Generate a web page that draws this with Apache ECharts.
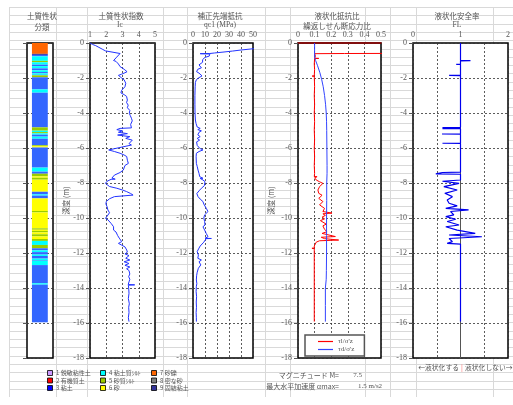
<!DOCTYPE html>
<html>
<head>
<meta charset="utf-8">
<script src="https://cdn.jsdelivr.net/npm/echarts/dist/echarts.min.js"></script>
<style>html,body{margin:0;padding:0;background:#fff}#chart{width:513px;height:405px}</style>
</head>
<body>
<div id="chart"></div>
<script>
// 土質性状分類 (層境界 m と分類番号)
var soilBounds = [0, 0.62, 0.68, 0.76, 1.02, 1.10, 1.24, 1.32, 1.45, 1.56, 1.66, 1.73, 1.82, 1.85, 1.96, 2.65, 2.84, 4.82, 5.01, 5.09,
  5.16, 5.24, 5.35, 5.47, 5.84, 5.90, 5.97, 7.12, 7.35, 7.47, 7.62, 7.70, 7.81, 8.50, 8.65, 8.72, 8.88, 9.60, 9.68, 10.59,
  10.67, 10.74, 10.82, 10.93, 11.05, 11.20, 11.31, 11.54, 11.73, 11.85, 11.95, 12.09, 12.17, 12.32, 12.40, 12.44, 12.69, 13.73, 13.81, 15.96];
var soilCode = [7, 9, 3, 4, 5, 4, 3, 4, 3, 4, 3, 4, 3, 5, 3, 4, 3, 5, 4, 5,
  4, 3, 4, 3, 5, 6, 3, 4, 3, 5, 6, 5, 6, 3, 4, 3, 6, 5, 6, 5,
  6, 5, 6, 5, 6, 5, 4, 5, 3, 4, 3, 4, 3, 4, 3, 4, 3, 4, 3];
var soilNames = ['1 鋭敏粘性土', '2 有機質土', '3 粘土', '4 粘土質ｼﾙﾄ', '5 砂質ｼﾙﾄ', '6 砂', '7 砂礫', '8 密な砂', '9 固結粘土'];

// 土質性状指数 Ic
var icDepth = [0.00, 0.08, 0.15, 0.25, 0.35, 0.45, 0.55, 0.60, 0.70, 0.85, 1.00, 1.05, 1.12, 1.20, 1.28, 1.35, 1.42, 1.50, 1.58, 1.64,
  1.70, 1.78, 1.85, 1.92, 2.00, 2.10, 2.20, 2.30, 2.40, 2.50, 2.60, 2.70, 2.78, 2.85, 2.95, 3.05, 3.15, 3.26, 3.40, 3.55,
  3.70, 3.85, 4.02, 4.15, 4.30, 4.45, 4.55, 4.65, 4.75, 4.85, 4.88, 4.95, 5.02, 5.10, 5.18, 5.26, 5.35, 5.45, 5.55, 5.65,
  5.75, 5.83, 6.11, 6.20, 6.30, 6.40, 6.49, 6.60, 6.70, 6.80, 6.88, 7.00, 7.10, 7.26, 7.40, 7.55, 7.64, 7.72, 7.78, 7.79,
  7.90, 8.02, 8.11, 8.20, 8.30, 8.40, 8.49, 8.60, 8.69, 8.78, 8.90, 9.06, 9.20, 9.35, 9.54, 9.70, 9.80, 9.90, 10.02, 10.10,
  10.20, 10.31, 10.40, 10.50, 10.60, 10.69, 10.80, 10.90, 11.00, 11.07, 11.15, 11.25, 11.35, 11.45, 11.55, 11.65, 11.75, 11.83, 11.95, 12.05,
  12.15, 12.21, 12.30, 12.40, 12.50, 12.60, 12.70, 12.80, 12.90, 13.00, 13.10, 13.20, 13.35, 13.50, 13.65, 13.80, 13.82, 13.84, 14.00, 14.30,
  14.60, 14.90, 15.10, 15.40, 15.70, 15.92];
var icValue = [1.00, 1.15, 1.35, 1.55, 1.75, 1.95, 2.05, 2.85, 2.80, 2.60, 2.45, 2.60, 2.55, 2.75, 2.70, 2.85, 2.95, 3.10, 3.00, 3.28,
  3.15, 2.95, 2.75, 2.70, 2.95, 3.10, 3.05, 3.20, 3.10, 3.15, 3.05, 2.95, 3.00, 2.90, 3.10, 3.25, 3.15, 3.30, 3.25, 3.35,
  3.30, 3.45, 3.42, 3.48, 3.55, 3.60, 3.62, 3.50, 3.58, 3.55, 2.85, 2.65, 3.00, 2.75, 3.30, 2.70, 3.45, 3.20, 3.60, 3.50,
  3.40, 3.55, 2.15, 2.50, 2.85, 3.10, 3.26, 3.15, 3.30, 3.20, 3.36, 3.15, 3.20, 3.05, 2.85, 2.50, 2.40, 2.35, 2.55, 2.30,
  2.05, 1.95, 1.90, 2.20, 2.65, 3.00, 3.25, 3.50, 3.65, 2.50, 2.20, 2.00, 1.98, 2.05, 2.10, 2.20, 2.15, 2.05, 1.95, 2.10,
  2.05, 2.30, 2.20, 2.45, 2.35, 2.45, 2.60, 2.50, 2.70, 2.60, 2.80, 2.70, 2.95, 2.75, 2.95, 3.15, 3.05, 3.26, 3.30, 3.15,
  3.40, 3.36, 3.20, 3.45, 3.10, 3.40, 3.15, 3.45, 3.25, 3.40, 3.30, 3.45, 3.38, 3.45, 3.40, 3.35, 3.75, 3.36, 3.38, 3.40,
  3.36, 3.42, 3.38, 3.40, 3.36, 3.40];

// 補正先端抵抗 qc1 (MPa)
var qcDepth = [0.00, 0.20, 0.33, 0.40, 0.46, 0.52, 0.57, 0.60, 0.61, 0.63, 0.75, 0.82, 0.88, 0.95, 1.02, 1.10, 1.16, 1.25, 1.35, 1.42,
  1.50, 1.58, 1.64, 1.72, 1.80, 1.88, 1.92, 2.00, 2.10, 2.25, 2.50, 3.00, 3.50, 4.00, 4.40, 4.59, 4.70, 4.80, 4.88, 4.95,
  5.02, 5.10, 5.16, 5.25, 5.35, 5.45, 5.55, 5.65, 5.73, 5.85, 6.02, 6.11, 6.20, 6.30, 6.50, 6.88, 7.05, 7.26, 7.45, 7.64,
  7.72, 7.73, 7.74, 7.83, 7.92, 8.02, 8.15, 8.30, 8.45, 8.60, 8.78, 8.92, 9.06, 9.20, 9.30, 9.44, 9.55, 9.63, 9.72, 9.82,
  9.90, 10.00, 10.10, 10.20, 10.30, 10.40, 10.50, 10.60, 10.69, 10.78, 10.88, 10.98, 11.07, 11.16, 11.17, 11.18, 11.28, 11.38, 11.45, 11.60,
  11.72, 11.83, 11.92, 12.02, 12.12, 12.21, 12.30, 12.40, 12.50, 12.59, 12.68, 12.78, 12.87, 12.97, 13.10, 13.30, 13.54, 13.75, 13.90, 14.00,
  14.20, 14.50, 14.80, 15.10, 15.40, 15.70, 15.92];
var qcValue = [120, 80, 50, 40, 33, 25, 18, 14, 6, 14, 13.5, 10, 9, 8, 6.5, 8, 7, 5, 4.5, 7,
  4, 3.5, 3, 5, 6, 7.5, 7, 4.5, 2.8, 2, 1.8, 1.6, 1.6, 1.7, 2.0, 2.5, 1.8, 3.5, 6, 4,
  7, 5, 6.5, 4, 6, 3.5, 5.5, 3, 2.8, 3.5, 5.6, 8.3, 5, 2.8, 2.6, 2.8, 3.5, 4.2, 5, 5.6,
  5.0, 8.3, 6, 8.3, 10, 11, 9.5, 7, 5, 3.2, 4.2, 6, 8.3, 9, 10.5, 11, 12.5, 12.5, 11, 9.7,
  11, 9, 10.5, 9.7, 8.5, 10, 8.3, 9.5, 9.7, 10.5, 11, 12, 12.5, 10, 15.3, 11, 10, 9, 8.3, 6,
  5, 4.2, 3.5, 2.8, 4.5, 5.6, 4, 7, 5, 4.2, 6.5, 7, 4.5, 5.6, 3.5, 3, 2.8, 3.2, 2.8, 2.8,
  2.6, 3.0, 2.7, 2.9, 2.6, 2.8, 2.8];

// 液状化抵抗比 τl/σ'z
var rlDepth = [0.00, 0.59, 0.60, 0.61, 0.75, 0.87, 0.88, 0.89, 1.20, 1.50, 1.88, 1.89, 1.90, 2.50, 3.00, 3.50, 4.00, 4.50, 4.97, 4.98,
  4.99, 5.50, 6.02, 6.03, 6.04, 6.50, 7.00, 7.45, 7.63, 7.64, 7.70, 7.83, 7.93, 8.02, 8.12, 8.21, 8.30, 8.40, 8.50, 8.59,
  8.70, 8.78, 8.88, 8.97, 9.06, 9.16, 9.25, 9.35, 9.45, 9.54, 9.63, 9.72, 9.76, 9.85, 9.95, 10.05, 10.15, 10.25, 10.35, 10.45,
  10.55, 10.65, 10.78, 10.88, 10.97, 11.06, 11.10, 11.18, 11.26, 11.30, 11.38, 11.45, 11.60, 11.72, 11.73, 11.75, 12.50, 13.50, 14.50, 15.92];
var rlValue = [0.9, 0.9, 0.28, 0.10, 0.105, 0.10, 0.125, 0.10, 0.098, 0.10, 0.098, 0.085, 0.098, 0.10, 0.098, 0.10, 0.098, 0.10, 0.098, 0.11,
  0.098, 0.10, 0.098, 0.108, 0.098, 0.10, 0.098, 0.10, 0.098, 0.115, 0.10, 0.11, 0.13, 0.15, 0.14, 0.13, 0.12, 0.12, 0.13, 0.125,
  0.145, 0.14, 0.125, 0.13, 0.15, 0.16, 0.13, 0.14, 0.16, 0.17, 0.15, 0.205, 0.15, 0.165, 0.145, 0.16, 0.135, 0.14, 0.17, 0.15,
  0.14, 0.16, 0.175, 0.145, 0.15, 0.225, 0.14, 0.16, 0.245, 0.13, 0.11, 0.10, 0.098, 0.098, 0.084, 0.098, 0.098, 0.098, 0.098, 0.098];

// 繰返しせん断応力比 τd/σ'z
var ldDepth = [0.00, 0.80, 1.00, 1.30, 1.70, 2.10, 2.50, 3.00, 3.50, 4.00, 4.50, 5.00, 6.00, 7.00, 7.45, 7.50, 8.00, 9.00, 10.00, 11.00,
  12.00, 13.00, 13.50, 13.55, 14.00, 15.00, 15.92];
var ldValue = [0.100, 0.100, 0.106, 0.118, 0.132, 0.143, 0.152, 0.160, 0.166, 0.170, 0.172, 0.173, 0.174, 0.175, 0.175, 0.172, 0.173, 0.173, 0.172, 0.172,
  0.172, 0.171, 0.170, 0.165, 0.165, 0.165, 0.165];

// 液状化安全率 FL
var flDepth = [0.00, 0.99, 1.01, 1.02, 1.21, 1.22, 1.23, 1.84, 1.85, 1.86, 4.82, 4.83, 4.85, 4.89, 4.90, 5.19, 5.20, 5.21, 5.72, 5.73,
  5.74, 7.38, 7.40, 7.47, 7.48, 7.50, 7.83, 7.90, 8.02, 8.21, 8.40, 8.59, 8.78, 8.97, 9.16, 9.31, 9.45, 9.54, 9.63, 9.82,
  9.92, 10.07, 10.20, 10.40, 10.50, 10.69, 10.88, 10.97, 11.07, 11.17, 11.35, 11.45, 11.49, 15.92];
var flValue = [1.00, 1.00, 1.21, 1.00, 1.00, 0.91, 1.00, 1.00, 0.76, 1.00, 1.00, 0.62, 1.00, 0.62, 1.00, 1.00, 0.61, 1.00, 1.00, 0.62,
  1.00, 1.00, 0.62, 0.62, 0.48, 1.00, 1.00, 0.62, 0.97, 0.65, 0.93, 0.67, 0.83, 0.72, 0.76, 0.93, 0.69, 1.17, 0.79, 0.86,
  0.69, 0.90, 0.72, 0.97, 0.69, 0.93, 1.31, 0.76, 1.45, 0.76, 0.83, 0.72, 1.00, 1.00];

var soilColor = {1: '#CC99FF', 2: '#FF0000', 3: '#3366FF', 4: '#00FFFF', 5: '#99CC00', 6: '#FFFF00', 7: '#FF6600', 8: '#808080', 9: '#333399'};
var legendColor = ['#CC99FF', '#FF0000', '#0000FF', '#00FFFF', '#99CC00', '#FFFF00', '#FF6600', '#808080', '#333399'];

var TXT = '#555';
var NUMFONT = "'Liberation Serif', 'Noto Sans CJK JP', serif";
var JPFONT = "'Noto Sans CJK JP', sans-serif";
var DASH = {color: '#333', width: 0.8, type: [2, 2]};

var chart = echarts.init(document.getElementById('chart'));

function pairs(depth, val) {
  return depth.map(function (d, i) { return [val[i], -d]; });
}

var grids = [
  {left: 27, top: 43, width: 26, height: 315},
  {left: 90, top: 43, width: 65, height: 315},
  {left: 193, top: 43, width: 60, height: 315},
  {left: 298, top: 43, width: 83, height: 315},
  {left: 413, top: 43, width: 96, height: 315}
].map(function (g) {
  g.show = true; g.backgroundColor = '#fff'; g.borderColor = '#000'; g.borderWidth = 1.5;
  return g;
});

function xAx(i, min, max, step, fmt) {
  return {
    gridIndex: i, type: 'value', position: 'top', min: min, max: max, interval: step,
    axisLine: {show: false}, axisTick: {show: false},
    axisLabel: {show: i > 0, color: TXT, fontSize: 8, fontFamily: NUMFONT, margin: 4, formatter: fmt},
    splitLine: {show: i > 0, lineStyle: DASH}
  };
}
function yAx(i, name, gap) {
  return {
    gridIndex: i, type: 'value', min: -18, max: 0, interval: 2,
    name: name, nameLocation: 'middle', nameGap: gap,
    nameTextStyle: {color: TXT, fontSize: 7.5, fontFamily: JPFONT},
    axisLine: {show: false},
    axisTick: {show: true, length: 4, lineStyle: {color: '#555'}},
    axisLabel: {show: i > 0, color: TXT, fontSize: 8, fontFamily: NUMFONT, margin: 6},
    splitLine: {show: true, lineStyle: DASH}
  };
}

// Excel 背景のセル罫線
var bgCols = [9, 56, 87, 163, 187, 265, 290, 365, 390, 416, 493];
var bgTop = 7, bgBottom = 397, bgStep = 8.3;
var graphics = [];
for (var y = bgTop; y <= bgBottom + 0.1; y += bgStep) {
  graphics.push({type: 'line', z: -10, silent: true, shape: {x1: 9, y1: Math.round(y) + 0.5, x2: 513, y2: Math.round(y) + 0.5}, style: {stroke: '#d9d9d9', lineWidth: 1}});
}
bgCols.forEach(function (x) {
  graphics.push({type: 'line', z: -10, silent: true, shape: {x1: x + 0.5, y1: bgTop, x2: x + 0.5, y2: bgBottom}, style: {stroke: '#d9d9d9', lineWidth: 1}});
});

function txt(s, x, y, size, align, color, font) {
  return {type: 'text', z: 10, silent: true, x: x, y: y,
    style: {text: s, fill: color || TXT, font: size + 'px ' + (font || JPFONT),
      align: align || 'center', verticalAlign: 'middle', textAlign: align || 'center', textVerticalAlign: 'middle'}};
}
graphics.push(
  txt('土質性状', 42, 16, 7.5), txt('分類', 42, 27, 7.5),
  txt('土質性状指数', 121, 16, 7.5), txt('Ic', 120, 25, 7.5, 'center', TXT, NUMFONT),
  txt('補正先端抵抗', 220, 16, 7.5), txt('qc1 (MPa)', 220, 25.5, 7.5, 'center', TXT, NUMFONT),
  txt('液状化抵抗比', 337, 16, 7.5), txt('繰返しせん断応力比', 337, 26, 7.5),
  txt('液状化安全率', 457, 16, 7.5), txt('FL', 457, 25, 7.5, 'center', TXT, NUMFONT),
  txt('マグニチュード M=', 339, 375, 7, 'right'), txt('7.5', 362, 375, 7, 'right', TXT, NUMFONT),
  txt('最大水平加速度 αmax=', 339, 386, 7, 'right'), txt('1.5 m/s2', 358, 386, 7, 'left', TXT, NUMFONT),
  txt('←液状化する', 459, 367, 6.8, 'right'), txt('|', 462, 367, 7, 'center', '#FF6666'), txt('液状化しない→', 465, 367, 6.8, 'left')
);
// 土質分類の凡例
var legX = [50, 103, 154], legY = [373, 380.5, 388];
soilNames.forEach(function (n, k) {
  var cx = legX[Math.floor(k / 3)], cy = legY[k % 3];
  graphics.push({type: 'rect', z: 10, silent: true, shape: {x: cx - 2.5, y: cy - 2.5, width: 5, height: 5},
    style: {fill: legendColor[k], stroke: '#000', lineWidth: 0.8}});
  graphics.push(txt(n, cx + 6, cy, 6, 'left'));
});

var soilData = soilCode.map(function (c, i) { return [soilBounds[i], soilBounds[i + 1], c]; });

chart.setOption({
  animation: false,
  backgroundColor: '#fff',
  grid: grids,
  xAxis: [
    xAx(0, 0, 1, 1),
    xAx(1, 1, 5, 1),
    xAx(2, 0, 50, 10),
    Object.assign(xAx(3, 0, 0.5, 0.1), {axisLine: {show: true, onZero: false, lineStyle: {color: '#990000', width: 1.5}}}),
    xAx(4, 0, 2, 0.5, function (v) { return v % 1 === 0 ? String(v) : ''; })
  ],
  yAxis: [yAx(0, '', 0), yAx(1, '深度 (m)', 19), yAx(2, '', 0), yAx(3, '深度 (m)', 23), yAx(4, '', 0)],
  legend: {
    left: 305, top: 335, orient: 'vertical', icon: 'rect', itemWidth: 15, itemHeight: 1.2, itemGap: 1,
    padding: [3, 10, 3, 13], backgroundColor: '#fff', borderColor: '#555', borderWidth: 1.5,
    textStyle: {color: TXT, fontSize: 7, fontFamily: NUMFONT},
    data: ["τl/σ'z", "τd/σ'z"]
  },
  graphic: graphics,
  series: [
    {
      type: 'custom', xAxisIndex: 0, yAxisIndex: 0, silent: true,
      data: soilData,
      renderItem: function (params, api) {
        var p1 = api.coord([0.19, -api.value(0)]);
        var p2 = api.coord([0.8, -api.value(1)]);
        return {type: 'rect', shape: {x: p1[0], y: p1[1], width: p2[0] - p1[0], height: p2[1] - p1[1]},
          style: {fill: soilColor[api.value(2)]}};
      }
    },
    {type: 'line', xAxisIndex: 1, yAxisIndex: 1, data: pairs(icDepth, icValue), symbol: 'none',
      lineStyle: {color: '#2233FF', width: 1}},
    {type: 'line', xAxisIndex: 2, yAxisIndex: 2, data: pairs(qcDepth, qcValue), symbol: 'none',
      lineStyle: {color: '#2233FF', width: 1}},
    {name: "τl/σ'z", type: 'line', xAxisIndex: 3, yAxisIndex: 3, data: pairs(rlDepth, rlValue), symbol: 'none',
      itemStyle: {color: '#FF0000'}, lineStyle: {color: '#FF0000', width: 1}},
    {name: "τd/σ'z", type: 'line', xAxisIndex: 3, yAxisIndex: 3, data: pairs(ldDepth, ldValue), symbol: 'none',
      itemStyle: {color: '#3344FF'}, lineStyle: {color: '#3344FF', width: 1}},
    {type: 'line', xAxisIndex: 4, yAxisIndex: 4, data: pairs(flDepth, flValue), symbol: 'none', z: 8,
      lineStyle: {color: '#0000EE', width: 1.2},
      markLine: {silent: true, symbol: 'none', label: {show: false}, z: 1,
        lineStyle: {color: '#555', type: 'solid', width: 1}, data: [{xAxis: 1}]}}
  ]
});
</script>
</body>
</html>
